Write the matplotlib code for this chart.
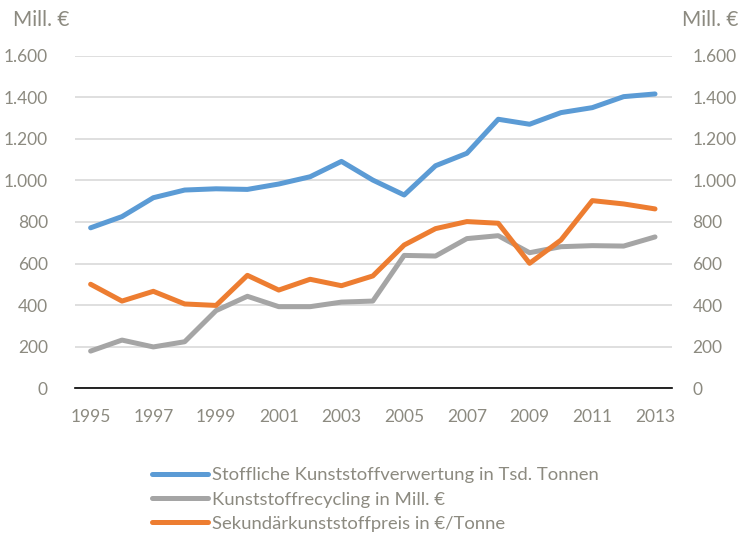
import matplotlib.pyplot as plt

# Daten
jahre = list(range(1995, 2014))
verwertung = [772, 826, 917, 954, 960, 957, 983, 1018, 1092, 1002,
              930, 1071, 1131, 1295, 1271, 1327, 1351, 1404, 1417]
recycling = [178, 231, 198, 223, 373, 442, 392, 392, 414, 419,
             639, 636, 720, 734, 652, 681, 686, 684, 728]
preis = [500, 419, 466, 405, 398, 543, 472, 524, 493, 540,
         689, 768, 802, 794, 601, 713, 903, 887, 863]

y_ticks = [0, 200, 400, 600, 800, 1000, 1200, 1400, 1600]
y_labels = ['0', '200', '400', '600', '800', '1.000', '1.200', '1.400', '1.600']
x_ticks = list(range(1995, 2014, 2))

textfarbe = '#8c8a80'
plt.rcParams['font.family'] = ['Lato', 'DejaVu Sans']

fig = plt.figure(figsize=(7.42, 5.33), dpi=100)
ax = fig.add_axes([0.101, 0.272, 0.805, 0.623])

ax.plot(jahre, verwertung, color='#5B9BD5', lw=3.6, solid_capstyle='round',
        label='Stoffliche Kunststoffverwertung in Tsd. Tonnen')
ax.plot(jahre, recycling, color='#A5A5A5', lw=3.6, solid_capstyle='round',
        label='Kunststoffrecycling in Mill. €')
ax.plot(jahre, preis, color='#ED7D31', lw=3.6, solid_capstyle='round',
        label='Sekundärkunststoffpreis in €/Tonne')

ax.set_xlim(1994.5, 2013.55)
ax.set_ylim(0, 1600)
ax.set_yticks(y_ticks)
ax.set_yticklabels(y_labels)
ax.set_xticks(x_ticks)
ax.grid(axis='y', color='#d9d9d9', lw=1.2)
ax.set_axisbelow(True)
for s in ['top', 'left', 'right']:
    ax.spines[s].set_visible(False)
ax.spines['bottom'].set_color('black')
ax.spines['bottom'].set_linewidth(1.2)
ax.tick_params(length=0, labelsize=12.5, labelcolor=textfarbe)
ax.tick_params(axis='y', pad=19.5)
ax.tick_params(axis='x', pad=15)

ax2 = ax.twinx()
ax2.set_ylim(0, 1600)
ax2.set_yticks(y_ticks)
ax2.set_yticklabels(y_labels)
for s in ['top', 'left', 'right', 'bottom']:
    ax2.spines[s].set_visible(False)
ax2.tick_params(length=0, labelsize=12.5, labelcolor=textfarbe, pad=14.5)

fig.text(13 / 742, 1 - 20 / 533, 'Mill. €', fontsize=15, color=textfarbe,
         ha='left', va='center')
fig.text(682 / 742, 1 - 20 / 533, 'Mill. €', fontsize=15, color=textfarbe,
         ha='left', va='center')

leg = fig.legend(loc='upper left', bbox_to_anchor=(143 / 742, 1 - 458 / 533),
                 frameon=False, fontsize=13.3, handlelength=3.0,
                 handletextpad=0.25, labelspacing=0.45, borderpad=0)
for t in leg.get_texts():
    t.set_color(textfarbe)

fig.savefig('out.png', dpi=100)
